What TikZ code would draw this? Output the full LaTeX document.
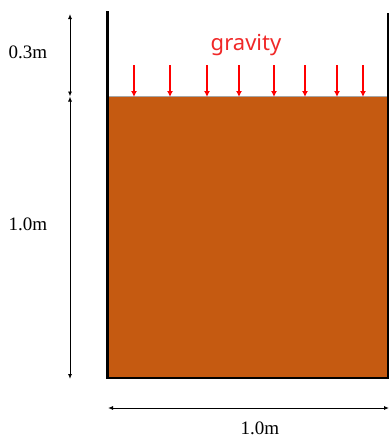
\documentclass[tikz,border=0pt]{standalone}
\usepackage{fontspec}
\setmainfont{Liberation Serif}
\newfontfamily\gfont{Noto Sans}
\usetikzlibrary{arrows.meta}
\definecolor{soil}{HTML}{C55A11}
\definecolor{gravred}{HTML}{FF0000}
\definecolor{labelred}{HTML}{F02828}
\tikzset{
  dimline/.style={line width=0.9pt, {Latex[length=5pt,width=4pt]}-{Latex[length=5pt,width=4pt]}},
  gravarrow/.style={gravred, line width=1.3pt, -{Latex[length=6pt,width=6pt]}},
  dimlabel/.style={font=\fontsize{19}{19}\selectfont, inner sep=0pt},
  wall/.style={line width=2.6pt, line cap=rect}
}
\begin{document}
\begin{tikzpicture}[x=1pt,y=-1pt]
\useasboundingbox (0,0) rectangle (389,439);
% soil
\fill[soil] (107,96) rectangle (388,378);
\draw[gray!70, line width=0.8pt] (107,96) -- (388,96);
% container
\coordinate (tl) at (107.5,12);
\coordinate (bl) at (107.5,378);
\coordinate (br) at (388,378);
\coordinate (tr) at (388,13);
\draw[wall] (tl) -- (bl) -- (br);
\draw[line width=2pt] (br) -- (tr);
% gravity arrows
\foreach \x/\n in {134/1,170/2,207/3,239/4,274/5,305/6,337/7,363/8}{
  \coordinate (gs\n) at (\x,65);
  \coordinate (ge\n) at (\x,97);
  \draw[gravarrow] (gs\n) -- (ge\n);
}
\node[text=labelred, font=\gfont\fontsize{22}{22}\selectfont, inner sep=0pt] (grav) at (246,45) {gravity};
% vertical dimensions
\coordinate (v0) at (70,14);
\coordinate (v1) at (70,96.5);
\coordinate (v2) at (70,379);
\draw[dimline] (v0) -- (v1);
\draw[dimline] (v1) -- (v2);
\node[dimlabel] (l03) at (28,52) {0.3m};
\node[dimlabel] (l10v) at (28,224) {1.0m};
% horizontal dimension
\coordinate (h0) at (108,408);
\coordinate (h1) at (389,408);
\draw[dimline] (h0) -- (h1);
\node[dimlabel] (l10h) at (260,428) {1.0m};
\end{tikzpicture}
\end{document}
